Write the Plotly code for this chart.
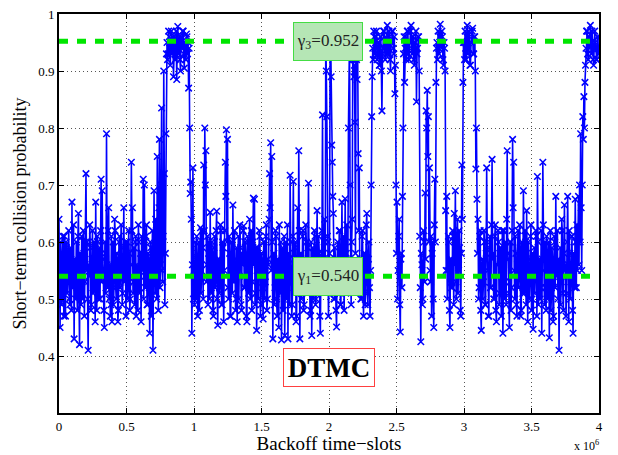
import numpy as np
import plotly.graph_objects as go

# ---- data (short-term collision probability) ----
low_a = [0.64, 0.52, 0.45, 0.60, 0.58, 0.49, 0.50, 0.61, 0.55, 0.47, 0.61, 0.53, 0.47, 0.60, 0.59, 0.51, 0.53, 0.58, 0.62, 0.50,
         0.49, 0.59, 0.57, 0.48, 0.67, 0.54, 0.52, 0.63, 0.43, 0.57, 0.56, 0.50, 0.60, 0.52, 0.48, 0.61, 0.65, 0.51, 0.42, 0.58,
         0.55, 0.49, 0.61, 0.53, 0.50, 0.62, 0.58, 0.47, 0.53, 0.60, 0.72, 0.55, 0.60, 0.50, 0.41, 0.56, 0.54, 0.63, 0.59, 0.48,
         0.49, 0.57, 0.62, 0.51, 0.52, 0.60, 0.57, 0.46, 0.67, 0.54, 0.48, 0.61, 0.60, 0.50, 0.54, 0.59, 0.50, 0.62, 0.71, 0.53,
         0.69, 0.57, 0.55, 0.48, 0.45, 0.60, 0.58, 0.51, 0.79, 0.56, 0.52, 0.62, 0.66, 0.50, 0.56, 0.47, 0.49, 0.61, 0.46, 0.55,
         0.60, 0.49, 0.53, 0.64, 0.62, 0.52, 0.50, 0.58, 0.57, 0.46, 0.48, 0.60, 0.61, 0.52, 0.54, 0.63, 0.59, 0.49, 0.51, 0.57,
         0.66, 0.53, 0.55, 0.60, 0.47, 0.58, 0.60, 0.50, 0.52, 0.62, 0.58, 0.48, 0.50, 0.56, 0.74, 0.62, 0.66, 0.51, 0.53, 0.59,
         0.49, 0.60, 0.61, 0.47, 0.56, 0.52, 0.48, 0.63, 0.60, 0.51, 0.54, 0.58, 0.46, 0.61, 0.58, 0.55, 0.71, 0.50, 0.70, 0.56,
         0.52, 0.61, 0.63, 0.49, 0.49, 0.58, 0.57, 0.52, 0.44, 0.60, 0.59, 0.47, 0.55, 0.62, 0.41, 0.53, 0.69, 0.57, 0.51, 0.64,
         0.62, 0.50, 0.75, 0.58, 0.48, 0.66, 0.78, 0.52, 0.56, 0.70, 0.835, 0.55, 0.53, 0.61]
rise_a = [0.90, 0.72, 0.49, 0.58, 0.79, 0.93]
high_a = [0.95, 0.92, 0.93, 0.97, 0.96, 0.94, 0.91, 0.95, 0.97, 0.93, 0.94, 0.96, 0.89, 0.94, 0.96, 0.92, 0.93, 0.97, 0.885, 0.95,
          0.978, 0.93, 0.95, 0.96, 0.92, 0.90, 0.96, 0.94, 0.94, 0.97, 0.97, 0.93, 0.905, 0.95, 0.95, 0.92, 0.965, 0.96, 0.93, 0.95]
drop_a = [0.87, 0.94, 0.80, 0.685, 0.705, 0.64, 0.44, 0.56, 0.73, 0.50]
low_c = [0.55, 0.49, 0.60, 0.52, 0.50, 0.61, 0.57, 0.47, 0.53, 0.60, 0.48, 0.57, 0.625, 0.51, 0.54, 0.62, 0.59, 0.50, 0.735, 0.62,
         0.80, 0.70, 0.76, 0.53, 0.56, 0.61, 0.49, 0.58, 0.60, 0.50, 0.652, 0.54, 0.51, 0.60, 0.58, 0.48, 0.47, 0.59, 0.61, 0.52,
         0.53, 0.62, 0.654, 0.50, 0.454, 0.57, 0.57, 0.51, 0.52, 0.63, 0.62, 0.49, 0.49, 0.60, 0.59, 0.46, 0.55, 0.62, 0.74, 0.68,
         0.797, 0.60, 0.78, 0.52, 0.50, 0.61, 0.58, 0.47, 0.47, 0.60, 0.60, 0.51, 0.665, 0.55, 0.53, 0.62, 0.57, 0.48, 0.50, 0.59,
         0.46, 0.56, 0.61, 0.50, 0.54, 0.63, 0.59, 0.49, 0.48, 0.58, 0.56, 0.62, 0.628, 0.52, 0.52, 0.60, 0.58, 0.47, 0.46, 0.61,
         0.60, 0.51, 0.55, 0.64, 0.50, 0.57, 0.62, 0.48, 0.53, 0.60, 0.677, 0.56, 0.675, 0.49, 0.51, 0.59, 0.445, 0.55, 0.59, 0.50,
         0.55, 0.62, 0.61, 0.47, 0.49, 0.58, 0.57, 0.52, 0.465, 0.60, 0.60, 0.50, 0.53, 0.61, 0.63, 0.48, 0.50, 0.57, 0.56, 0.64,
         0.72, 0.66, 0.774, 0.55, 0.75, 0.60, 0.43, 0.56, 0.58, 0.49, 0.52, 0.62, 0.61, 0.50, 0.47, 0.57, 0.56, 0.45, 0.63, 0.52,
         0.51, 0.60, 0.428, 0.55, 0.59, 0.48, 0.54, 0.61, 0.436, 0.57, 0.60, 0.50, 0.52, 0.63, 0.43, 0.58, 0.57, 0.49, 0.717, 0.60,
         0.55, 0.47, 0.49, 0.61, 0.706, 0.52, 0.53, 0.59, 0.60, 0.46, 0.47, 0.56, 0.66, 0.53, 0.76, 0.62, 0.43, 0.55, 0.58, 0.50,
         0.52, 0.61, 0.62, 0.48, 0.49, 0.57, 0.56, 0.63, 0.60, 0.51, 0.51, 0.59, 0.703, 0.56, 0.55, 0.47, 0.48, 0.60, 0.436, 0.54,
         0.59, 0.50, 0.53, 0.62, 0.61, 0.49, 0.50, 0.58, 0.655, 0.53, 0.54, 0.61, 0.58, 0.47, 0.44, 0.56, 0.57, 0.62, 0.823, 0.58,
         0.52, 0.60]
spike_d = [0.64, 0.52, 0.95, 0.90, 0.82, 0.61, 0.60, 0.47, 0.52, 0.58, 0.94, 0.96, 0.89, 0.77, 0.74, 0.68]
low_d = [0.65, 0.50, 0.50, 0.59, 0.57, 0.48, 0.451, 0.56, 0.60, 0.52, 0.53, 0.62, 0.62, 0.49, 0.49, 0.58, 0.67, 0.54, 0.55, 0.61,
         0.48, 0.57, 0.676, 0.51, 0.58, 0.63, 0.52, 0.56]
spike_e = [0.80, 0.93, 0.96, 0.70, 0.55, 0.49, 0.60, 0.64, 0.92, 0.95, 0.89, 0.91, 0.81, 0.58, 0.95, 0.92, 0.885, 0.95, 0.755, 0.62,
           0.73, 0.54, 0.57, 0.50]
low_e = [0.50, 0.61, 0.62, 0.53, 0.47, 0.58, 0.58, 0.49, 0.53, 0.63, 0.65, 0.51, 0.49, 0.57, 0.60, 0.52, 0.47, 0.55, 0.70, 0.82]
high_b = [0.89, 0.94, 0.92, 0.97, 0.96, 0.93, 0.94, 0.96, 0.97, 0.92, 0.93, 0.95, 0.95, 0.91, 0.91, 0.96, 0.96, 0.90, 0.83, 0.93,
          0.94, 0.97, 0.97, 0.94, 0.92, 0.96, 0.95, 0.93, 0.98, 0.95, 0.93, 0.97, 0.96, 0.92, 0.90, 0.95, 0.95, 0.97, 0.97, 0.94,
          0.93, 0.96, 0.86, 0.91]
low_f = [0.70, 0.58, 0.67, 0.50, 0.55, 0.61, 0.64, 0.49, 0.442, 0.57, 0.58, 0.52, 0.68, 0.80]
high_c = [0.93, 0.96, 0.88, 0.94, 0.96, 0.92, 0.94, 0.97, 0.97, 0.93, 0.92, 0.95, 0.95, 0.97, 0.98, 0.94, 0.93, 0.96, 0.96, 0.92,
          0.91, 0.95, 0.95, 0.97, 0.846, 0.93, 0.94, 0.96, 0.96, 0.90]
low_g = [0.61, 0.52, 0.425, 0.58, 0.56, 0.49, 0.50, 0.62, 0.60, 0.53, 0.686, 0.57, 0.83, 0.80, 0.866, 0.75, 0.82, 0.60, 0.73, 0.55,
         0.53, 0.61, 0.47, 0.58, 0.60, 0.50, 0.45, 0.63, 0.71, 0.60, 0.88, 0.94]
high_d = [0.95, 0.92, 0.97, 0.94, 0.93, 0.96, 0.982, 0.95, 0.94, 0.97, 0.96, 0.92, 0.91, 0.95, 0.94, 0.90]
low_h = [0.655, 0.55, 0.68, 0.50, 0.55, 0.61, 0.60, 0.48, 0.45, 0.57, 0.57, 0.52, 0.52, 0.62, 0.61, 0.49, 0.65, 0.56, 0.69, 0.53,
         0.50, 0.60, 0.64, 0.51, 0.56, 0.62, 0.59, 0.48, 0.47, 0.58, 0.735, 0.64, 0.88, 0.95]
high_e = [0.95, 0.92, 0.97, 0.94, 0.92, 0.96, 0.98, 0.93, 0.94, 0.97, 0.96, 0.91, 0.91, 0.95, 0.95, 0.97, 0.975, 0.93, 0.93, 0.96,
          0.96, 0.90]
low_i = [0.728, 0.80, 0.675, 0.58, 0.64, 0.50, 0.52, 0.61, 0.62, 0.48, 0.445, 0.56, 0.57, 0.50, 0.53, 0.62, 0.60, 0.49, 0.49, 0.58,
         0.73, 0.60, 0.55, 0.47, 0.47, 0.59, 0.61, 0.52, 0.52, 0.63, 0.745, 0.57, 0.58, 0.50, 0.50, 0.61, 0.63, 0.48, 0.46, 0.56,
         0.56, 0.62, 0.60, 0.49, 0.51, 0.59, 0.59, 0.47, 0.54, 0.62, 0.44, 0.55, 0.62, 0.50, 0.53, 0.60, 0.49, 0.64, 0.76, 0.58,
         0.57, 0.51, 0.45, 0.60, 0.60, 0.48, 0.52, 0.62, 0.78, 0.66, 0.74, 0.55, 0.50, 0.61, 0.58, 0.49, 0.47, 0.57, 0.62, 0.52,
         0.54, 0.63, 0.59, 0.47, 0.48, 0.60, 0.56, 0.51, 0.69, 0.58, 0.51, 0.62, 0.60, 0.49, 0.655, 0.55, 0.46, 0.60, 0.57, 0.50,
         0.53, 0.61, 0.63, 0.48, 0.50, 0.58, 0.447, 0.56, 0.59, 0.51, 0.54, 0.62, 0.61, 0.47, 0.715, 0.60, 0.49, 0.56, 0.57, 0.50,
         0.52, 0.62, 0.44, 0.57, 0.74, 0.63, 0.55, 0.49, 0.60, 0.52, 0.48, 0.61, 0.58, 0.50, 0.53, 0.60, 0.432, 0.56, 0.62, 0.48,
         0.51, 0.59, 0.57, 0.46, 0.47, 0.61, 0.60, 0.52, 0.68, 0.55, 0.54, 0.62, 0.50, 0.57, 0.41, 0.53, 0.59, 0.49, 0.53, 0.64,
         0.62, 0.51, 0.48, 0.58, 0.665, 0.55, 0.56, 0.47, 0.51, 0.60, 0.68, 0.56, 0.46, 0.62, 0.58, 0.50, 0.53, 0.61, 0.61, 0.48,
         0.44, 0.58, 0.57, 0.52, 0.675, 0.60, 0.52, 0.63, 0.55, 0.60]
rise_f = [0.68, 0.56, 0.70, 0.60, 0.79, 0.66, 0.55, 0.70, 0.82, 0.78, 0.855, 0.80, 0.88, 0.91]
high_f = [0.94, 0.97, 0.97, 0.93, 0.92, 0.96, 0.96, 0.94, 0.98, 0.95, 0.93, 0.97, 0.95, 0.92, 0.91, 0.94, 0.97, 0.95, 0.94, 0.92,
          0.92, 0.96, 0.96, 0.93, 0.93]

x_start, x_end = 0, 4_000_000
gamma_labels = ["γ<sub>1</sub>=0.540", "γ<sub>3</sub>=0.952"]
gamma_values = [0.540, 0.952]
x_tick_vals = [0, 500000, 1000000, 1500000, 2000000, 2500000, 3000000, 3500000, 4000000]
x_tick_text = ["0", "0.5", "1", "1.5", "2", "2.5", "3", "3.5", "4"]
y_tick_vals = [0.4, 0.5, 0.6, 0.7, 0.8, 0.9, 1.0]
y_tick_text = ["0.4", "0.5", "0.6", "0.7", "0.8", "0.9", "1"]

segments = [low_a, rise_a, high_a, drop_a, low_c, spike_d, low_d, spike_e,
            low_e, high_b, low_f, high_c, low_g, high_d, low_h, high_e,
            low_i, rise_f, high_f]
y = np.concatenate([np.asarray(s, dtype=float) for s in segments])
x = np.linspace(x_start, x_end, len(y))

FONT = "Liberation Serif, Times New Roman, serif"
BLUE = "#0000ff"
GREEN = "#00e600"

fig = go.Figure()
fig.add_trace(go.Scatter(
    x=x, y=y, mode="lines+markers",
    line=dict(color=BLUE, width=1.6),
    marker=dict(symbol="x-thin", size=6.5, color=BLUE, line=dict(width=1.5, color=BLUE)),
    hoverinfo="skip", showlegend=False))

for gv in gamma_values:
    fig.add_trace(go.Scatter(
        x=[x_start, x_end], y=[gv, gv], mode="lines",
        line=dict(color=GREEN, width=5, dash="9px,9px"),
        hoverinfo="skip", showlegend=False))

for lab, gv in zip(gamma_labels, gamma_values):
    fig.add_annotation(
        x=1993000, y=gv, xref="x", yref="y", text=lab, showarrow=False,
        font=dict(family=FONT, size=17, color="#222222"),
        bgcolor="#b5e6b5", bordercolor="#44dd44", borderwidth=1, borderpad=2,
        width=64, height=33)

fig.add_annotation(
    x=2000000, y=0.380, xref="x", yref="y", text="<b>DTMC</b>", showarrow=False,
    font=dict(family=FONT, size=27, color="black"),
    bgcolor="white", bordercolor="#ff4040", borderwidth=1, borderpad=2,
    width=86, height=33)

fig.add_annotation(
    x=(586 - 59) / 540, y=-(445 - 413) / 399, xref="paper", yref="paper",
    text="x 10<sup>6</sup>", xanchor="center", yanchor="middle",
    showarrow=False, font=dict(family=FONT, size=12, color="black"))

axis_common = dict(
    showline=True, linecolor="black", linewidth=1.8, mirror="ticks",
    ticks="inside", ticklen=5, tickcolor="black", tickwidth=1,
    showgrid=True, gridcolor="#555555", griddash="1px,3px", gridwidth=1,
    zeroline=False, tickfont=dict(family=FONT, size=13, color="black"))

fig.update_xaxes(range=[x_start, x_end], tickvals=x_tick_vals, ticktext=x_tick_text,
                 title=dict(text="Backoff time−slots", font=dict(family=FONT, size=19, color="black"),
                            standoff=0),
                 **axis_common)
fig.update_yaxes(range=[0.3, 1.0], tickvals=y_tick_vals, ticktext=y_tick_text,
                 title=dict(text="Short−term collision probability", font=dict(family=FONT, size=18, color="black"),
                            standoff=7),
                 **axis_common)

fig.update_layout(
    width=618, height=455, margin=dict(l=59, r=19, t=14, b=42, autoexpand=False),
    paper_bgcolor="white", plot_bgcolor="white", showlegend=False,
    font=dict(family=FONT, color="black"))

fig.write_html("out.html", config={"displayModeBar": False},
               post_script="document.body.style.margin='0';document.body.style.overflow='hidden';")
